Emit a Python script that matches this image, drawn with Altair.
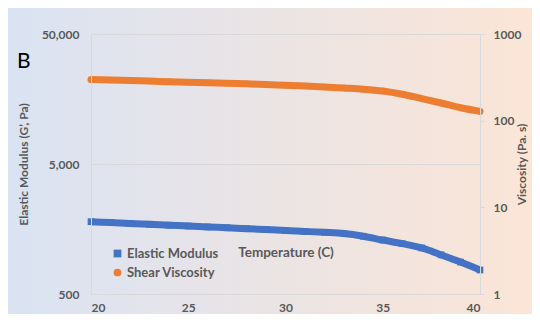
import altair as alt
import pandas as pd

# ---- data ----
temps = list(range(20, 41))
elastic_modulus = [1800, 1773, 1746, 1720, 1693, 1667, 1641, 1615, 1590, 1565,
                   1540, 1515, 1490, 1458, 1390, 1300, 1220, 1130, 1000, 880, 765]
shear_viscosity = [298, 294, 290, 286, 282, 278, 274, 270, 266, 261,
                   256, 251, 245, 238, 231, 220, 202, 180, 160, 141, 128]
series_names = ["Elastic Modulus", "Shear Viscosity"]
series_colors = ["#4472C4", "#ED7D31"]
series_shapes = ["square", "circle"]
x_ticks = [20, 25, 30, 35, 40]
left_ticks = [500, 5000, 50000]
right_ticks = [1, 10, 100, 1000]
panel_label = ["B"]

df = pd.DataFrame({
    "T": temps * 2,
    "value": elastic_modulus + shear_viscosity,
    "series": [series_names[0]] * len(temps) + [series_names[1]] * len(temps),
})

W, H = 389, 260
PADL, PADT, PADR, PADB = 83, 26, 52, 20
FONT = "Lato"
GRAY = "#595959"
LINE = "#d9d9d9"

x_axis = alt.Axis(values=x_ticks, format="d", grid=False, ticks=False, zindex=1,
                  domainColor=LINE, labelPadding=8, labelFont=FONT, labelFontSize=12,
                  labelFontWeight="bold", labelColor=GRAY,
                  title="Temperature (C)", titleFont=FONT, titleFontSize=13.5,
                  titleFontWeight="bold", titleColor=GRAY, titleY=-42,
                  titleBaseline="middle")
X = alt.X("T:Q", scale=alt.Scale(domain=[20, 40], nice=False, zero=False), axis=x_axis)

left_scale = alt.Scale(type="log", domain=[500, 50000], nice=False)
right_scale = alt.Scale(type="log", domain=[1, 1000], nice=False)

left_axis = alt.Axis(orient="left", values=left_ticks, format=",", grid=True, zindex=1,
                     gridColor=LINE, domainColor=LINE, ticks=False, labelPadding=12,
                     labelFont=FONT, labelFontSize=12, labelFontWeight="bold",
                     labelColor=GRAY, title="Elastic Modulus (G\u2019, Pa)",
                     titleFont=FONT, titleFontSize=12, titleFontWeight="bold",
                     titleColor=GRAY, titleX=-61)
right_axis = alt.Axis(orient="right", values=right_ticks, format="d", grid=False, zindex=1,
                      domainColor=LINE, ticks=True, tickColor=LINE, tickSize=4,
                      labelPadding=9, labelFont=FONT, labelFontSize=12,
                      labelFontWeight="bold", labelColor=GRAY,
                      title="Viscosity (Pa. s)", titleFont=FONT, titleFontSize=12,
                      titleFontWeight="bold", titleColor=GRAY, titleAngle=270,
                      titleX=48)

legend = alt.Legend(title=None, orient="none", legendX=20, legendY=213,
                    labelFont=FONT, labelFontSize=13, labelFontWeight="bold",
                    labelColor=GRAY, symbolSize=60, rowPadding=5,
                    symbolStrokeWidth=0, labelOffset=3)
color_enc = alt.Color("series:N", scale=alt.Scale(domain=series_names, range=series_colors),
                      legend=legend)
shape_enc = alt.Shape("series:N", scale=alt.Scale(domain=series_names, range=series_shapes),
                      legend=legend)

bg = alt.Chart(pd.DataFrame({"p": panel_label})).mark_rect(
    color=alt.LinearGradient(gradient="linear",
                             stops=[alt.GradientStop(color="#dae3f3", offset=0),
                                    alt.GradientStop(color="#fbe5d6", offset=1)],
                             x1=0, x2=1, y1=0, y2=0)
).encode(x=alt.value(-PADL), x2=alt.value(W + PADR),
         y=alt.value(-PADT), y2=alt.value(H + PADB))

label = alt.Chart(pd.DataFrame({"p": panel_label})).mark_text(
    font=FONT, fontSize=21, color="#000000", align="left", baseline="middle"
).encode(text="p:N", x=alt.value(-74), y=alt.value(28))

blue = df[df.series == series_names[0]]
orange = df[df.series == series_names[1]]

blue_line = alt.Chart(blue).mark_line(color=series_colors[0], strokeWidth=7,
                                      interpolate="monotone").encode(
    x=X, y=alt.Y("value:Q", scale=left_scale, axis=left_axis))
blue_pts = alt.Chart(blue).mark_point(filled=True, size=45, opacity=1).encode(
    x=X, y=alt.Y("value:Q", scale=left_scale, axis=None), color=color_enc, shape=shape_enc)

orange_line = alt.Chart(orange).mark_line(color=series_colors[1], strokeWidth=7,
                                          strokeCap="round", interpolate="monotone").encode(
    x=X, y=alt.Y("value:Q", scale=right_scale, axis=right_axis))
orange_pts = alt.Chart(orange).mark_point(filled=True, size=40, opacity=1).encode(
    x=X, y=alt.Y("value:Q", scale=right_scale, axis=None), color=color_enc, shape=shape_enc)

chart = alt.layer(bg, label, blue_line, blue_pts, orange_line, orange_pts).resolve_scale(
    y="independent"
).properties(
    width=W, height=H,
    autosize=alt.AutoSizeParams(type="none"),
    padding={"left": PADL, "top": PADT, "right": PADR, "bottom": PADB},
    background="white",
).configure_view(stroke=None)

chart.save("out.html", embed_options={"renderer": "svg", "actions": False})
